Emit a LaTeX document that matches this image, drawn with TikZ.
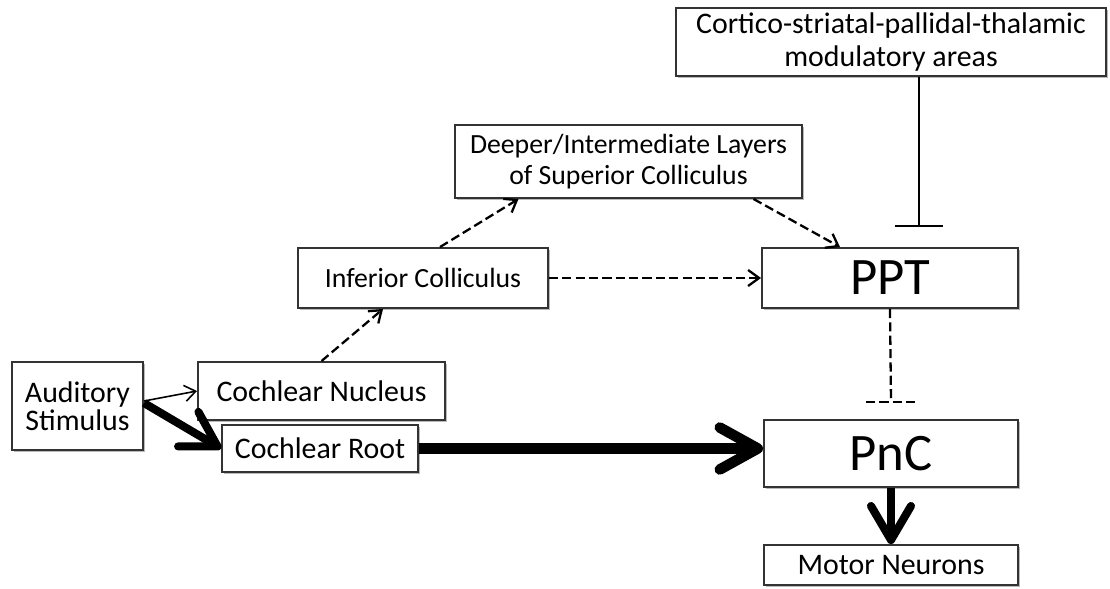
\documentclass[tikz,border=0pt]{standalone}
\usepackage{fontspec}
\setmainfont{Carlito}
\usetikzlibrary{arrows.meta,positioning,shadows}

\begin{document}
\begin{tikzpicture}[
  x=0.1mm, y=-0.1mm,
  font=\fontsize{8.5}{9.4}\selectfont,
  blk/.style={draw=black!80, fill=white, line width=0.55pt, inner sep=1pt, align=center,
    drop shadow={shadow xshift=0.5pt, shadow yshift=-0.5pt, fill=black!45, opacity=0.6}},
  sml/.style={blk, font=\fontsize{7.9}{8.8}\selectfont},
  big/.style={blk, font=\fontsize{15}{17}\selectfont},
  lnk/.style={line width=0.45pt, -{Straight Barb[length=1.1mm, width=1.6mm]}},
  dsh/.style={lnk, line width=0.65pt, dash pattern=on 2.6pt off 1.2pt},
  hvy/.style={line width=2.3pt, -{Straight Barb[length=3.4mm, width=4mm, round]}},
  inh/.style={line width=0.6pt, -{Bar[width=4.8mm]}},
]
\useasboundingbox (0,0) rectangle (1110,588);

% ---------------- boxes ----------------
\node[blk, minimum width=13.1mm, minimum height=8.8mm, font=\fontsize{8.5}{8}\selectfont]
  (aud) at (77.5,406) {Auditory\\Stimulus};
\node[blk, minimum width=24.7mm, minimum height=5.8mm] (cn) at (321.5,391) {Cochlear Nucleus};
\node[blk, minimum width=19.6mm, minimum height=4.7mm] (cr) at (320,448.5) {Cochlear Root};
\node[sml, minimum width=25mm, minimum height=6mm] (ic) at (423,278) {Inferior Colliculus};
\node[sml, minimum width=34.7mm, minimum height=7.3mm] (sc) at (628.5,161.5)
  {Deeper/Intermediate Layers\\of Superior Colliculus};
\node[big, minimum width=25.6mm, minimum height=6mm] (ppt) at (890,278) {PPT};
\node[big, minimum width=25.4mm, minimum height=6.7mm] (pnc) at (891,453.5) {PnC};
\node[blk, minimum width=25.4mm, minimum height=4mm] (mn) at (891,565) {Motor Neurons};
\node[blk, minimum width=43mm, minimum height=6.8mm] (cort) at (891,42)
  {Cortico-striatal-pallidal-thalamic\\modulatory areas};

% ---------------- startle pathway ----------------
\draw[lnk] ([yshift=0.5mm]aud.east) -- (cn.west);
\draw[hvy] ([yshift=0.3mm]aud.east) -- (cr.west);
\draw[hvy, line width=3pt, -{Straight Barb[length=3.8mm, width=4.2mm, round]}]
  (cr.east) -- (cr.east -| pnc.west);
\draw[hvy] (pnc.south) -- (mn.north);

% ---------------- colliculi ----------------
\draw[dsh] (cn.north) -- ([xshift=-4mm]ic.south);
\draw[dsh] ([xshift=1.7mm]ic.north) -- ([xshift=-11mm]sc.south);
\draw[dsh] (ic.east) -- (ppt.west);
\draw[dsh] ([xshift=12.5mm]sc.south) -- ([xshift=-5mm]ppt.north);

% ---------------- inhibition ----------------
\coordinate[above=2mm of ppt.north, xshift=2.9mm] (cbar);
\draw[inh] (cort.south -| cbar) -- (cbar);
\coordinate[above=1.7mm of pnc.north] (pbar);
\draw[dsh, -] (ppt.south) -- (pbar);
\draw[dsh, -] ([xshift=-2.5mm]pbar) -- ([xshift=2.5mm]pbar);
\end{tikzpicture}
\end{document}
